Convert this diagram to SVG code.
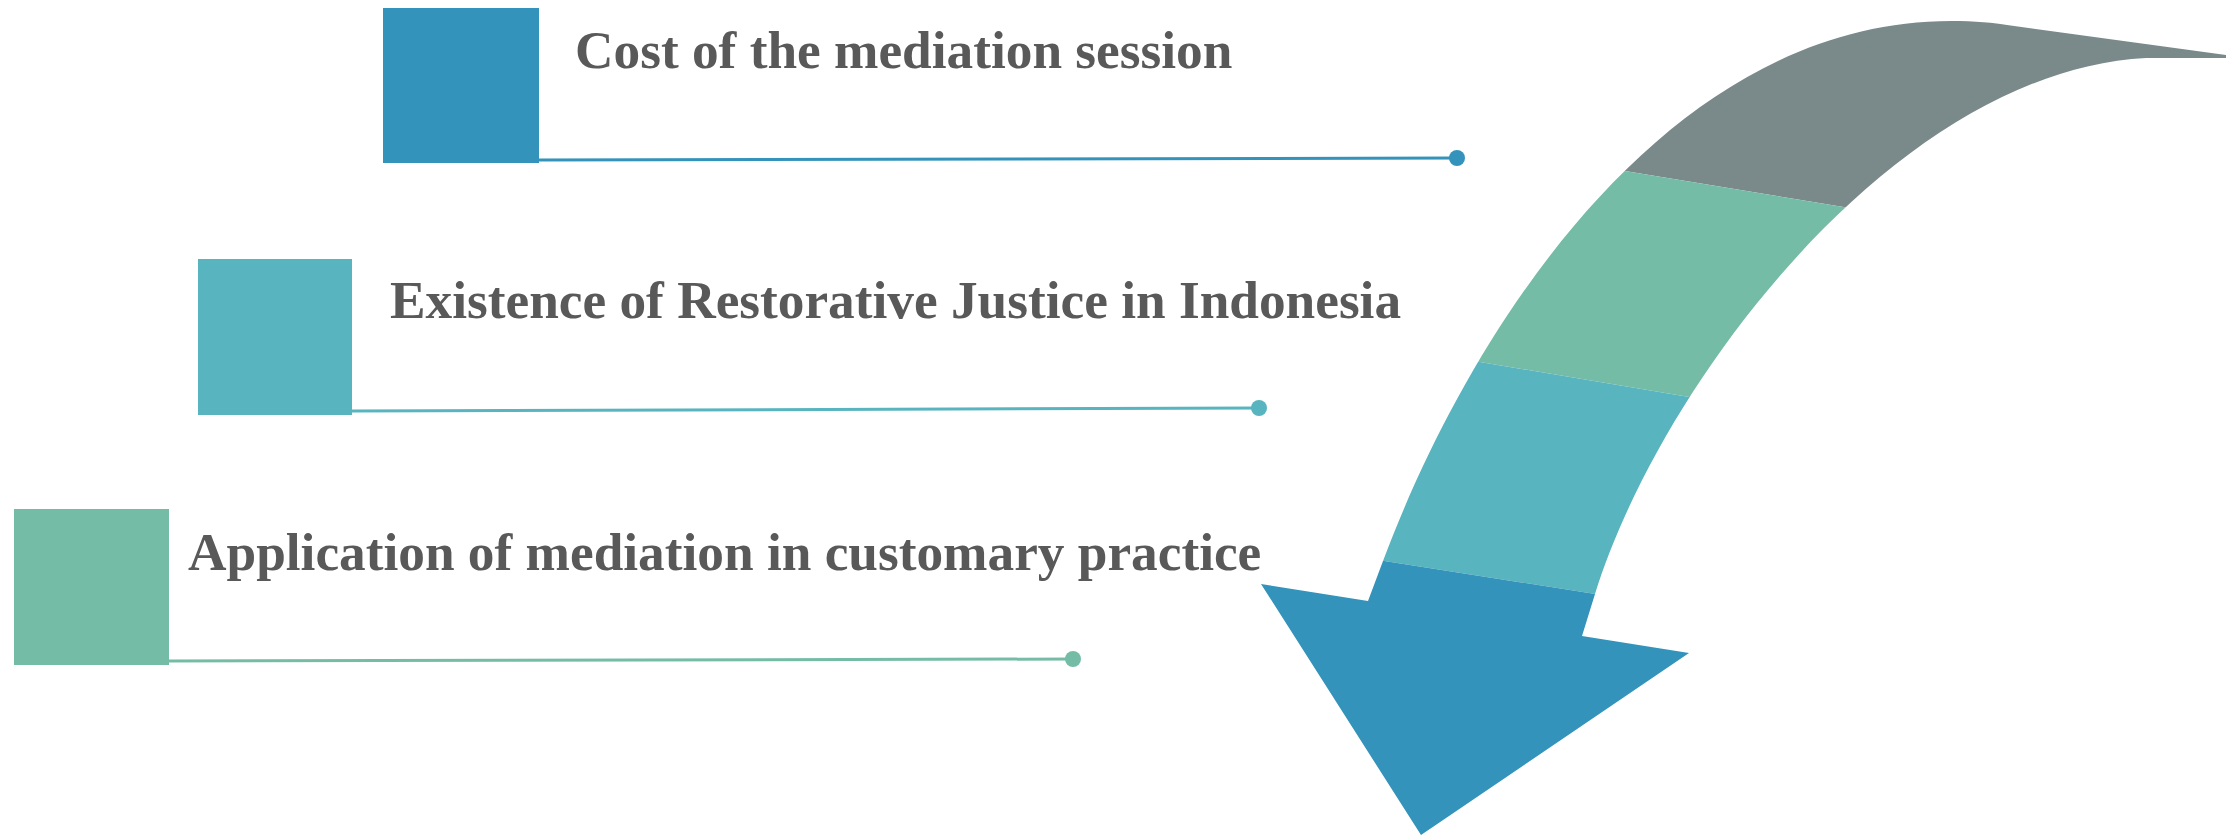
<svg xmlns="http://www.w3.org/2000/svg" width="2226" height="838" viewBox="0 0 2226 838">
<style>
.lbl{font-family:"Liberation Serif","Times New Roman",serif;font-weight:bold;font-size:53.3px;fill:#595959}
.c1{fill:#3493ba}.c2{fill:#58b4bf}.c3{fill:#75bca6}.c4{fill:#7a8a8b}
.s1{stroke:#3493ba}.s2{stroke:#58b4bf}.s3{stroke:#75bca6}
.ln{stroke-width:3;fill:none}
</style>
<defs>
<clipPath id="arrowClip">
<path d="M1421,835 L1261,584 L1368,601 L1383,561 C1473,321 1671,21 1951,21 C1975,21 1995,23 2007,25 L2226,55 L2226,58 L2146,58 C1896,71 1660,384 1595,594 L1582,636 L1689,653 Z"/>
</clipPath>
</defs>
<rect width="2226" height="838" fill="#ffffff"/>
<g id="arrow" clip-path="url(#arrowClip)">
<path class="c4" d="M1200,0 L2226,0 L2226,270 L1200,101 Z"/>
<path class="c3" d="M1200,101 L2226,270 L2226,487 L1200,315 Z"/>
<path class="c2" d="M1200,315 L2226,487 L2226,693 L1200,532 Z"/>
<path class="c1" d="M1200,532 L2226,693 L2226,838 L1200,838 Z"/>
</g>
<g id="connectors">
<line class="ln s1" x1="539" y1="160" x2="1457" y2="158"/>
<circle class="c1" cx="1457" cy="158" r="8"/>
<line class="ln s2" x1="352" y1="411" x2="1259" y2="408"/>
<circle class="c2" cx="1259" cy="408" r="8"/>
<line class="ln s3" x1="169" y1="661" x2="1073" y2="659"/>
<circle class="c3" cx="1073" cy="659" r="8"/>
</g>
<g id="node1">
<rect class="c1" x="383" y="8" width="156" height="155"/>
<text class="lbl" x="575" y="68">Cost of the mediation session</text>
</g>
<g id="node2">
<rect class="c2" x="198" y="259" width="154" height="156"/>
<text class="lbl" x="390" y="318">Existence of Restorative Justice in Indonesia</text>
</g>
<g id="node3">
<rect class="c3" x="14" y="509" width="155" height="156"/>
<text class="lbl" x="188" y="570">Application of mediation in customary practice</text>
</g>
</svg>
